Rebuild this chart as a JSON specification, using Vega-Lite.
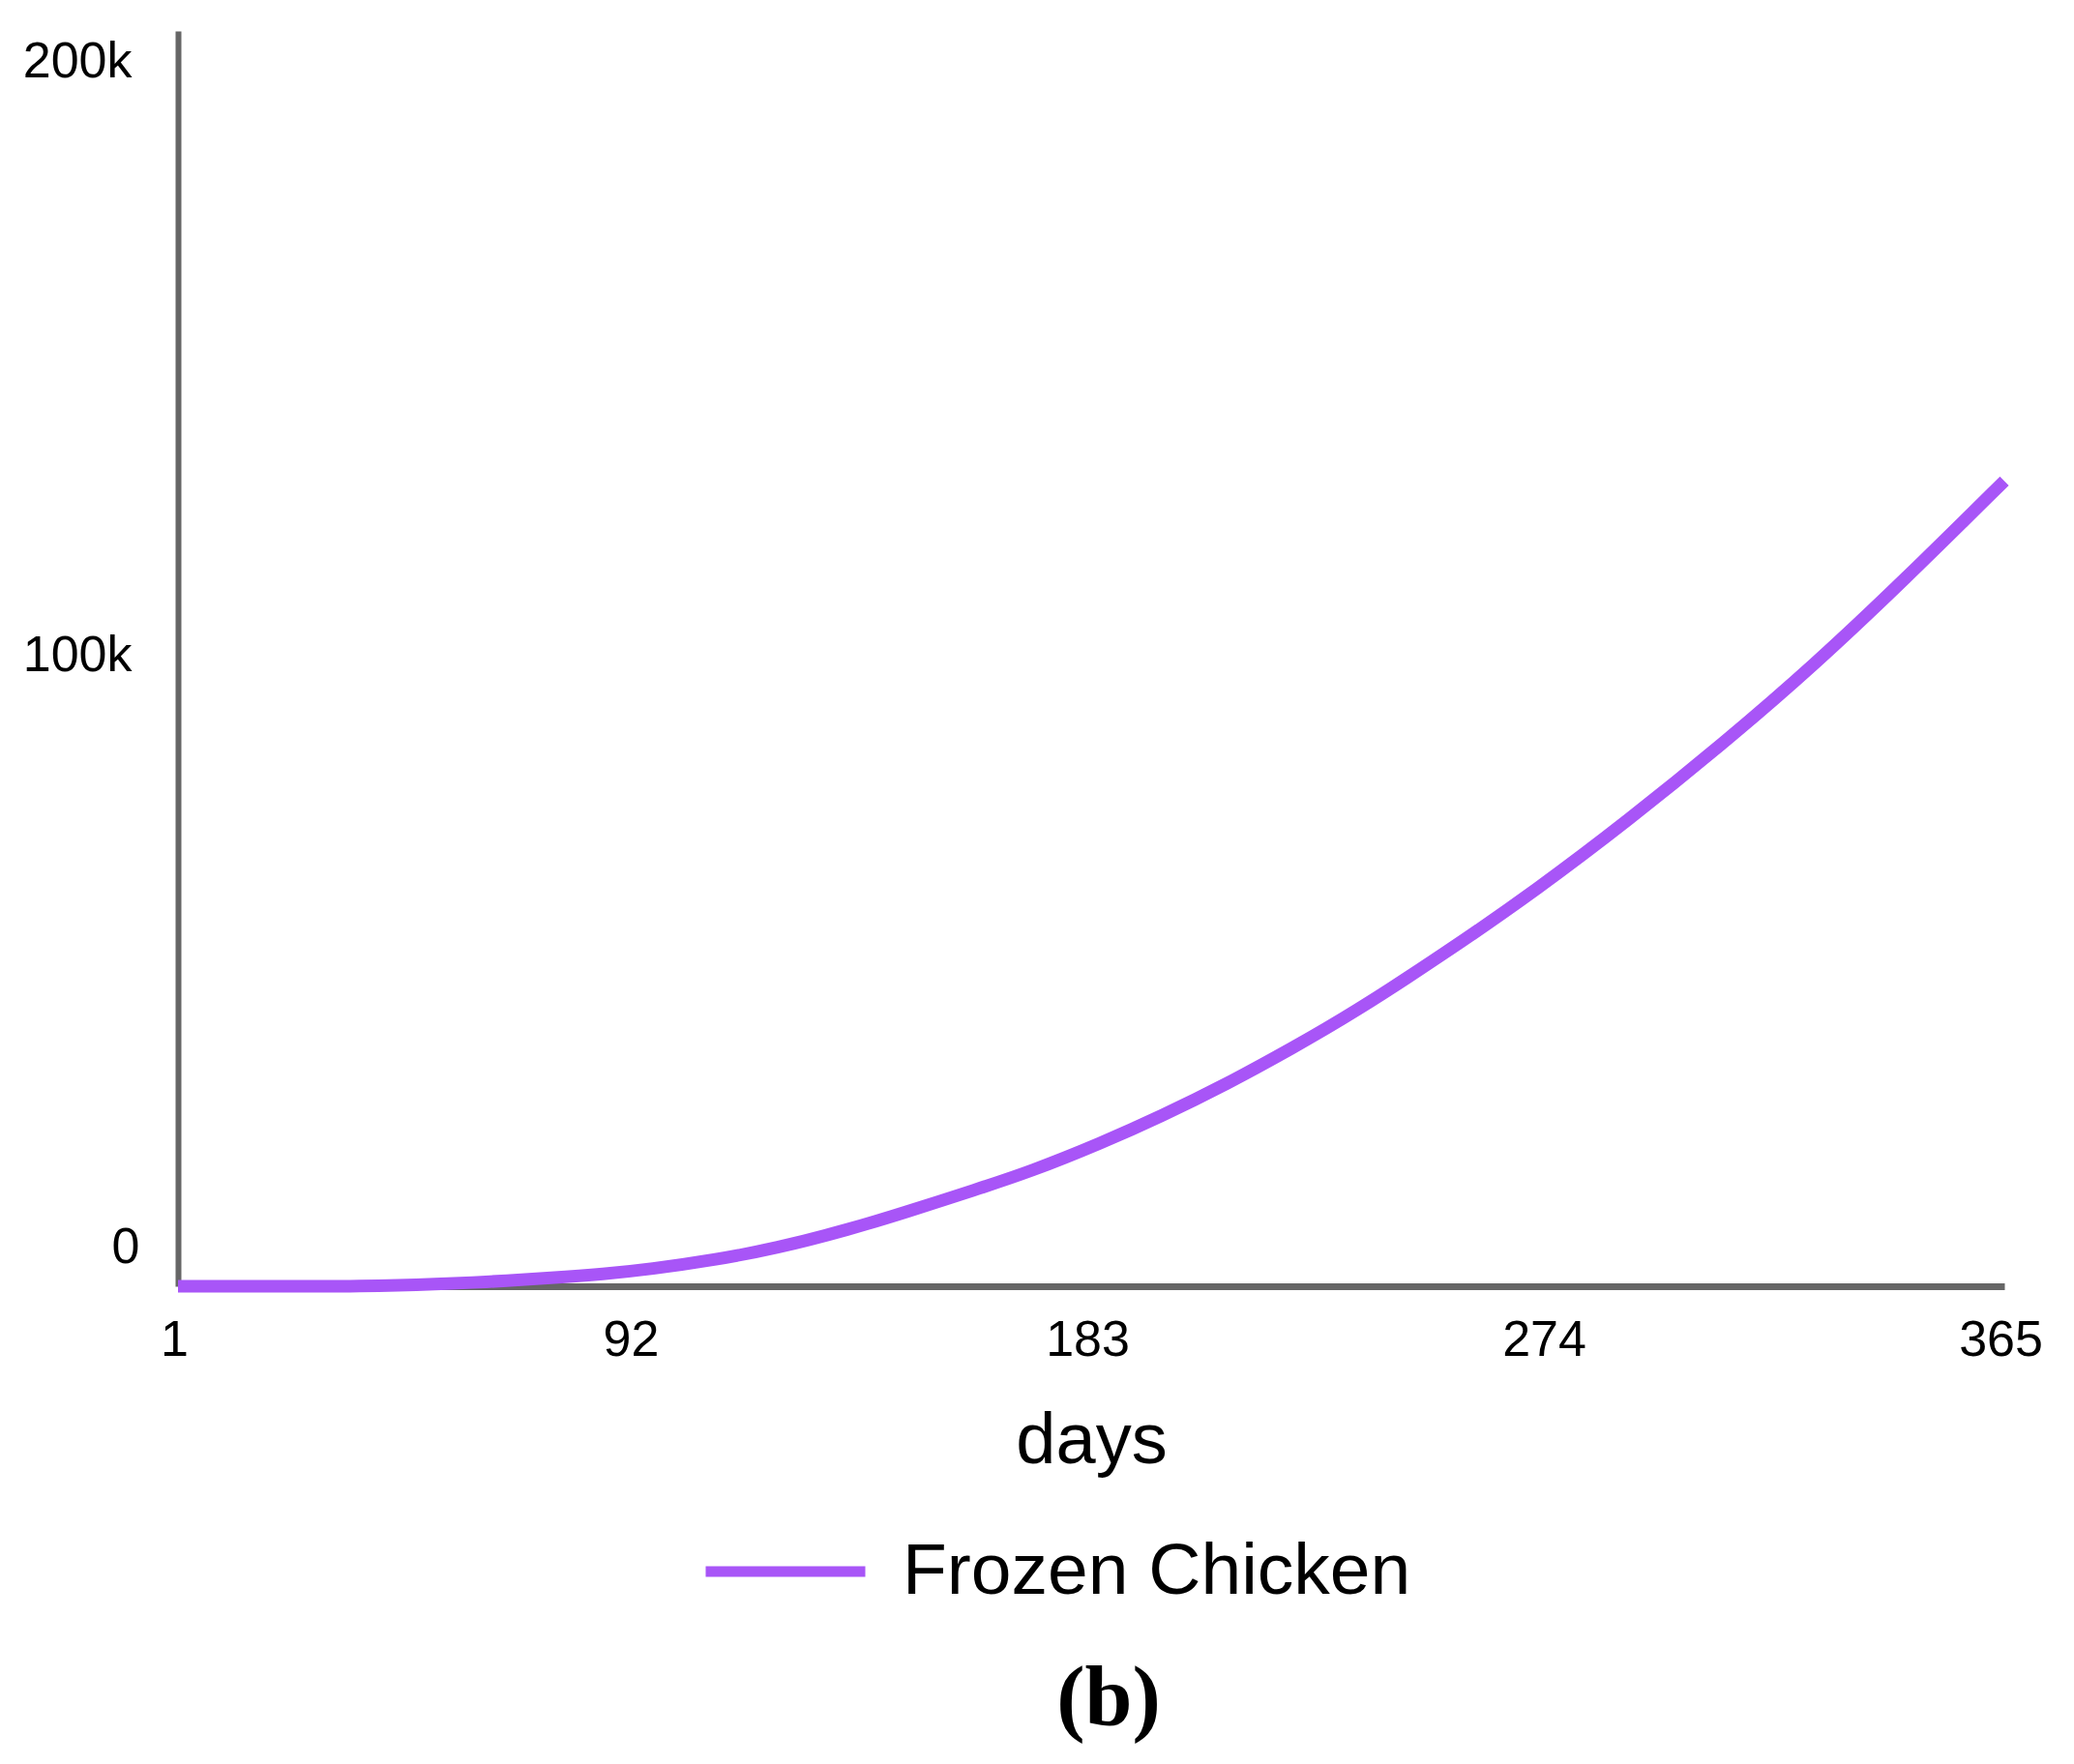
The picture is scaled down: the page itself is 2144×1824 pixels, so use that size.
{
  "$schema": "https://vega.github.io/schema/vega-lite/v6.json",
  "width": 1888,
  "height": 1298,
  "autosize": {"type": "none"},
  "padding": {"left": 184, "top": 32, "right": 72, "bottom": 494},
  "background": "white",
  "config": {"view": {"stroke": null}},
  "title": {
    "text": "(b)",
    "orient": "bottom",
    "anchor": "middle",
    "font": "Liberation Serif",
    "fontSize": 88,
    "fontWeight": "bold",
    "color": "black",
    "offset": 51,
    "dx": 18
  },
  "data": {
    "values": [
      {"day": 1, "value": 0, "series": "Frozen Chicken"},
      {"day": 10, "value": 0, "series": "Frozen Chicken"},
      {"day": 20, "value": 0, "series": "Frozen Chicken"},
      {"day": 30, "value": 0, "series": "Frozen Chicken"},
      {"day": 37, "value": 0, "series": "Frozen Chicken"},
      {"day": 45, "value": 150, "series": "Frozen Chicken"},
      {"day": 52, "value": 330, "series": "Frozen Chicken"},
      {"day": 60, "value": 600, "series": "Frozen Chicken"},
      {"day": 66, "value": 850, "series": "Frozen Chicken"},
      {"day": 75, "value": 1300, "series": "Frozen Chicken"},
      {"day": 86, "value": 1950, "series": "Frozen Chicken"},
      {"day": 95, "value": 2700, "series": "Frozen Chicken"},
      {"day": 108, "value": 4200, "series": "Frozen Chicken"},
      {"day": 120, "value": 6000, "series": "Frozen Chicken"},
      {"day": 135, "value": 9100, "series": "Frozen Chicken"},
      {"day": 146, "value": 11800, "series": "Frozen Chicken"},
      {"day": 160, "value": 15400, "series": "Frozen Chicken"},
      {"day": 171, "value": 18300, "series": "Frozen Chicken"},
      {"day": 185, "value": 22800, "series": "Frozen Chicken"},
      {"day": 197, "value": 27100, "series": "Frozen Chicken"},
      {"day": 210, "value": 32200, "series": "Frozen Chicken"},
      {"day": 223, "value": 37900, "series": "Frozen Chicken"},
      {"day": 235, "value": 43400, "series": "Frozen Chicken"},
      {"day": 254, "value": 53300, "series": "Frozen Chicken"},
      {"day": 272, "value": 63300, "series": "Frozen Chicken"},
      {"day": 290, "value": 74200, "series": "Frozen Chicken"},
      {"day": 309, "value": 86500, "series": "Frozen Chicken"},
      {"day": 327, "value": 98900, "series": "Frozen Chicken"},
      {"day": 345, "value": 112500, "series": "Frozen Chicken"},
      {"day": 365, "value": 128300, "series": "Frozen Chicken"}
    ]
  },
  "mark": {"type": "line", "strokeWidth": 13, "interpolate": "basis", "strokeCap": "butt"},
  "encoding": {
    "x": {
      "field": "day",
      "type": "quantitative",
      "scale": {"domain": [1, 365], "nice": false, "zero": false},
      "axis": {
        "title": "days",
        "values": [1, 92, 183, 274, 365],
        "grid": false,
        "ticks": false,
        "tickSize": 0,
        "domainColor": "#666666",
        "domainWidth": 7,
        "labelFont": "Liberation Sans",
        "labelFontSize": 52,
        "labelColor": "black",
        "labelPadding": 30,
        "labelOffset": -4,
        "labelFlush": false,
        "labelOverlap": false,
        "titleFont": "Liberation Sans",
        "titleFontSize": 74,
        "titleFontWeight": "normal",
        "titleColor": "black",
        "titlePadding": 43
      }
    },
    "y": {
      "field": "value",
      "type": "quantitative",
      "scale": {"domain": [0, 200000], "nice": false},
      "axis": {
        "title": null,
        "values": [0, 100000, 200000],
        "labelExpr": "datum.value == 0 ? '0' : (datum.value / 1000) + 'k'",
        "grid": false,
        "ticks": false,
        "tickSize": 0,
        "domainColor": "#666666",
        "domainWidth": 6,
        "labelFont": "Liberation Sans",
        "labelFontSize": 52,
        "labelColor": "black",
        "labelPadding": {"condition": {"test": "datum.value == 0", "value": 40}, "value": 48},
        "labelFlush": true,
        "labelFlushOffset": -10,
        "labelOffset": -4,
        "labelOverlap": false
      }
    },
    "color": {
      "field": "series",
      "type": "nominal",
      "scale": {"range": ["#a855f7"]},
      "legend": {
        "title": null,
        "orient": "none",
        "legendX": 540,
        "legendY": 1505,
        "padding": 0,
        "symbolType": "stroke",
        "symbolSize": 27225,
        "symbolStrokeWidth": 11,
        "labelFont": "Liberation Sans",
        "labelFontSize": 75,
        "labelColor": "black",
        "labelOffset": 33,
        "labelLimit": 0
      }
    }
  }
}
